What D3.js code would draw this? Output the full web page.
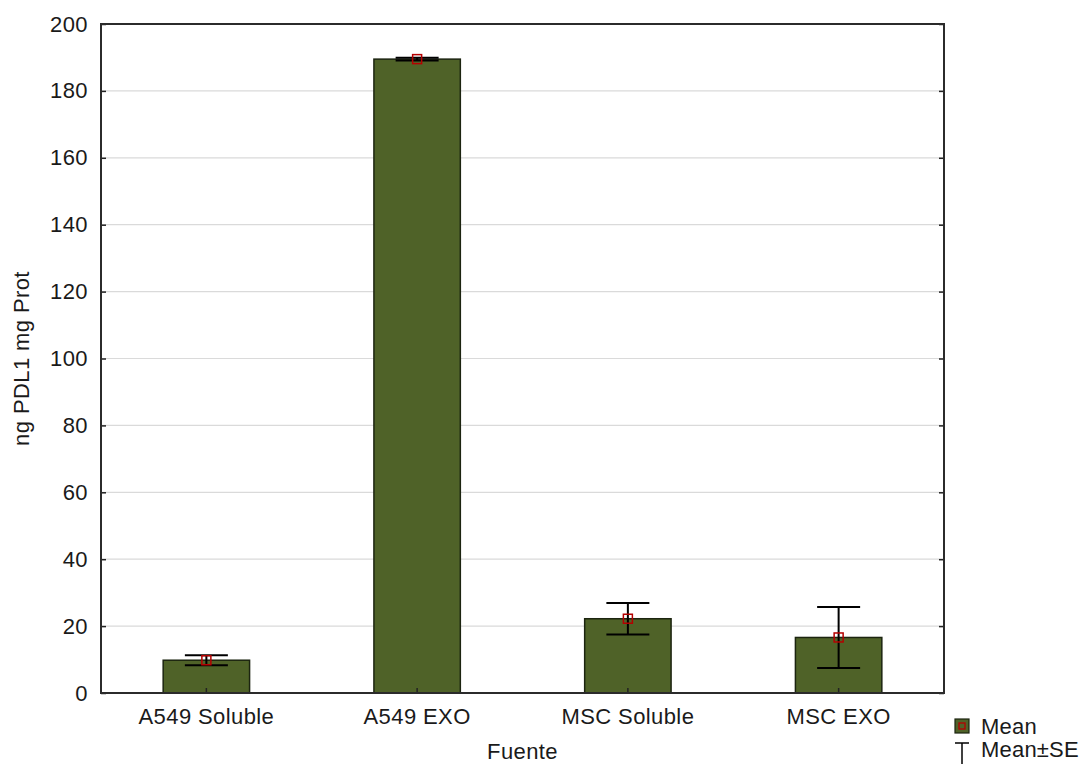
<!DOCTYPE html>
<html>
<head>
<meta charset="utf-8">
<script src="https://cdn.jsdelivr.net/npm/d3@7"></script>
<style>
  html, body { margin: 0; padding: 0; background: #fff; }
  svg { display: block; font-family: "Liberation Sans", Arial, sans-serif; }
</style>
</head>
<body>
<svg id="chart" width="1080" height="764"></svg>
<script>
// Group means and standard errors of PD-L1 per source
const categories = ["A549 Soluble", "A549 EXO", "MSC Soluble", "MSC EXO"];
const means = [9.8, 189.5, 22.2, 16.6];
const stdErrors = [1.5, 0.4, 4.7, 9.1];
const yTicks = [0, 20, 40, 60, 80, 100, 120, 140, 160, 180, 200];
const yLabel = "ng PDL1 mg Prot";
const xLabel = "Fuente";
const legendItems = ["Mean", "Mean\u00B1SE"];

const svg = d3.select("#chart");
const margin = { left: 101, right: 136, top: 24, bottom: 71 };
const W = 1080, H = 764;
const x0 = margin.left, x1 = W - margin.right;
const y0 = H - margin.bottom, y1 = margin.top;

const x = d3.scaleBand().domain(categories).range([x0, x1]).paddingInner(0.59).paddingOuter(0.295);
const y = d3.scaleLinear().domain([0, 200]).range([y0, y1]);

const barFill = "#4f6228";
const barStroke = "#1c2410";
const markRed = "#b40000";
const textColor = "#1a1a1a";
const fontSize = 22;
const tracking = "0.4px";

// horizontal gridlines
svg.append("g").selectAll("line")
  .data(yTicks.filter(t => t > 0 && t < 200))
  .join("line")
  .attr("x1", x0).attr("x2", x1)
  .attr("y1", d => y(d)).attr("y2", d => y(d))
  .attr("stroke", "#dadada").attr("stroke-width", 1.2);

// bars
svg.append("g").selectAll("rect")
  .data(categories)
  .join("rect")
  .attr("x", d => x(d))
  .attr("width", x.bandwidth())
  .attr("y", (d, i) => y(means[i]))
  .attr("height", (d, i) => y(0) - y(means[i]))
  .attr("fill", barFill)
  .attr("stroke", barStroke)
  .attr("stroke-width", 1.5);

// error bars (mean ± SE)
const capHalf = 21.5;
const eb = svg.append("g").attr("stroke", "#000").attr("stroke-width", 2);
categories.forEach((c, i) => {
  const cx = x(c) + x.bandwidth() / 2;
  const hi = y(means[i] + stdErrors[i]);
  const lo = y(means[i] - stdErrors[i]);
  eb.append("line").attr("x1", cx).attr("x2", cx).attr("y1", hi).attr("y2", lo);
  eb.append("line").attr("x1", cx - capHalf).attr("x2", cx + capHalf).attr("y1", hi).attr("y2", hi);
  eb.append("line").attr("x1", cx - capHalf).attr("x2", cx + capHalf).attr("y1", lo).attr("y2", lo);
});

// mean markers
svg.append("g").selectAll("rect")
  .data(categories)
  .join("rect")
  .attr("x", d => x(d) + x.bandwidth() / 2 - 4.5)
  .attr("y", (d, i) => y(means[i]) - 4.5)
  .attr("width", 9).attr("height", 9)
  .attr("fill", "none")
  .attr("stroke", markRed)
  .attr("stroke-width", 1.5);

// left axis (ticks inside)
const leftAxis = svg.append("g")
  .attr("transform", `translate(${x0},0)`)
  .call(d3.axisLeft(y).tickValues(yTicks).tickSize(-5).tickPadding(13).tickFormat(d3.format("d")));
leftAxis.select(".domain").remove();
leftAxis.selectAll("line").attr("stroke", "#222").attr("stroke-width", 1.5);
leftAxis.selectAll("text")
  .attr("font-size", fontSize).attr("fill", textColor)
  .attr("letter-spacing", tracking)
  .attr("font-family", "Liberation Sans, Arial, sans-serif");

// right axis ticks (inside, no labels)
const rightAxis = svg.append("g")
  .attr("transform", `translate(${x1},0)`)
  .call(d3.axisRight(y).tickValues(yTicks).tickSize(-5).tickFormat(""));
rightAxis.select(".domain").remove();
rightAxis.selectAll("line").attr("stroke", "#222").attr("stroke-width", 1.5);

// bottom axis
const bottomAxis = svg.append("g")
  .attr("transform", `translate(0,${y0})`)
  .call(d3.axisBottom(x).tickSize(-5).tickPadding(15));
bottomAxis.select(".domain").remove();
bottomAxis.selectAll("line").attr("stroke", "#222").attr("stroke-width", 1.5);
bottomAxis.selectAll("text")
  .attr("font-size", fontSize).attr("fill", textColor)
  .attr("letter-spacing", tracking)
  .attr("font-family", "Liberation Sans, Arial, sans-serif");

// plot frame
svg.append("rect")
  .attr("x", x0).attr("y", y1)
  .attr("width", x1 - x0).attr("height", y0 - y1)
  .attr("fill", "none").attr("stroke", "#2b2b2b").attr("stroke-width", 2);

// axis titles
svg.append("text")
  .attr("x", (x0 + x1) / 2).attr("y", 759)
  .attr("text-anchor", "middle")
  .attr("font-size", fontSize).attr("fill", textColor)
  .attr("letter-spacing", tracking)
  .text(xLabel);

svg.append("text")
  .attr("transform", `translate(29,${(y0 + y1) / 2}) rotate(-90)`)
  .attr("text-anchor", "middle")
  .attr("font-size", fontSize).attr("fill", textColor)
  .attr("letter-spacing", tracking)
  .text(yLabel);

// legend
const lg = svg.append("g");
lg.append("rect").attr("x", 955).attr("y", 719).attr("width", 14).attr("height", 14)
  .attr("fill", barFill).attr("stroke", barStroke).attr("stroke-width", 1.2);
lg.append("rect").attr("x", 959).attr("y", 723).attr("width", 6).attr("height", 6)
  .attr("fill", "none").attr("stroke", markRed).attr("stroke-width", 1.3);
lg.append("line").attr("x1", 955).attr("x2", 969).attr("y1", 743).attr("y2", 743)
  .attr("stroke", "#000").attr("stroke-width", 1.5);
lg.append("line").attr("x1", 962).attr("x2", 962).attr("y1", 743).attr("y2", 764)
  .attr("stroke", "#000").attr("stroke-width", 1.5);
lg.selectAll("text")
  .data(legendItems)
  .join("text")
  .attr("x", 981)
  .attr("y", (d, i) => 734 + i * 23)
  .attr("font-size", fontSize).attr("fill", textColor)
  .attr("letter-spacing", "0.2px")
  .text(d => d);
</script>
</body>
</html>
